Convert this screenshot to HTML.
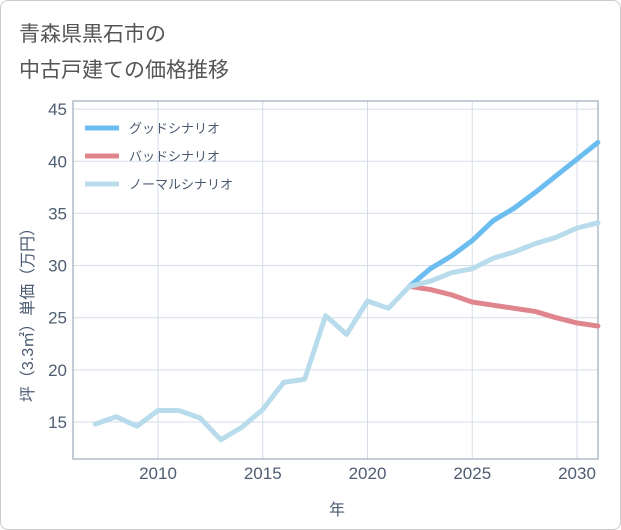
<!DOCTYPE html>
<html><head><meta charset="utf-8">
<style>
body{margin:0;background:#fff;}
#wrap{position:relative;width:619px;height:528px;border:1px solid #ccc;border-radius:8px;background:#fff;overflow:hidden;}
text{font-family:"Liberation Sans","Noto Sans CJK JP",sans-serif;}
</style></head>
<body>
<div id="wrap">
<svg id="chart" width="621" height="530">
<text x="18" y="40" font-size="21" fill="#555">青森県黒石市の</text>
<text x="18" y="76" font-size="21" fill="#555">中古戸建ての価格推移</text>
<g id="grid"></g>
<rect x="72" y="100" width="525" height="358" fill="none" stroke="#8a9bb0" stroke-width="1"/>
<g id="series"></g>
<g id="axes"></g>
<text x="336" y="514" font-size="16" fill="#4a5a70" text-anchor="middle">年</text>
<text transform="translate(32,310) rotate(-90)" font-size="16" fill="#4a5a70" text-anchor="middle">坪（3.3㎡）単価（万円）</text>
<g id="legend"></g>
</svg>
</div>
<script>
const years = [2007,2008,2009,2010,2011,2012,2013,2014,2015,2016,2017,2018,2019,2020,2021,2022,2023,2024,2025,2026,2027,2028,2029,2030,2031];
const normalValues = [14.8,15.5,14.6,16.1,16.1,15.4,13.3,14.5,16.2,18.8,19.1,25.2,23.4,26.6,25.9,28.0,28.5,29.3,29.7,30.7,31.3,32.1,32.7,33.6,34.1];
const futureYears = [2022,2023,2024,2025,2026,2027,2028,2029,2030,2031];
const goodValues = [28.0,29.7,30.9,32.4,34.3,35.5,37.0,38.6,40.2,41.8];
const badValues = [28.0,27.7,27.2,26.5,26.2,25.9,25.6,25.0,24.5,24.2];
const xTicks = [2010,2015,2020,2025,2030];
const yTicks = [15,20,25,30,35,40,45];
const legendLabels = ["グッドシナリオ","バッドシナリオ","ノーマルシナリオ"];

const NS="http://www.w3.org/2000/svg";
const X = y => 157 + (y-2010)*20.95;
const Y = v => 421 - (v-15)*10.43;
function mk(tag, attrs, parent){const e=document.createElementNS(NS,tag);for(const k in attrs)e.setAttribute(k,attrs[k]);parent.appendChild(e);return e;}
const grid=document.getElementById('grid'), axes=document.getElementById('axes'), series=document.getElementById('series'), legend=document.getElementById('legend');
xTicks.forEach(t=>{
  const l=mk('line',{x1:X(t),x2:X(t),y1:100,y2:458,stroke:'#d5dee8','stroke-width':1},grid);
  
  
  const tx=mk('text',{x:X(t),y:478,'font-size':17,fill:'#4e5d72','text-anchor':'middle'},axes);
  tx.textContent=t;
  
  
});
yTicks.forEach(t=>{
  const l=mk('line',{x1:72,x2:597,y1:Y(t),y2:Y(t),stroke:'#d5dee8','stroke-width':1},grid);
  
  
  const tx=mk('text',{x:66,y:Y(t)+6,'font-size':17,fill:'#4e5d72','text-anchor':'end'},axes);
  tx.textContent=t;
  
  
});
function line(xs, vs, color, name){
  const p=mk('polyline',{points:xs.map((x,i)=>X(x)+','+Y(vs[i])).join(' '),fill:'none',stroke:color,'stroke-width':5,'stroke-linejoin':'round','stroke-linecap':'round'},series);
  
  
}
const colors=['#6bbdf0','#e0858d','#b8dcec'];
line(futureYears,goodValues,colors[0],'good-scenario-line');
line(futureYears,badValues,colors[1],'bad-scenario-line');
line(years,normalValues,colors[2],'normal-scenario-line');
legendLabels.forEach((lab,i)=>{
  const y=127+i*28;
  const l=mk('line',{x1:84,x2:118,y1:y,y2:y,stroke:colors[i],'stroke-width':5},legend);
  
  
  const t=mk('text',{x:128,y:y+5,'font-size':13,fill:'#4a5a70'},legend);
  t.textContent=lab;
  
  
});
</script>
</body></html>
